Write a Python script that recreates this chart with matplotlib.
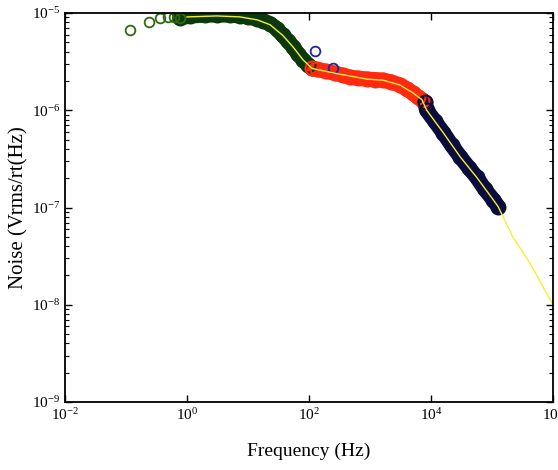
import numpy as np
import matplotlib
matplotlib.use('Agg')
import matplotlib.pyplot as plt
from matplotlib.ticker import LogLocator, NullLocator

plt.rcParams['font.family'] = 'Liberation Serif'
plt.rcParams['mathtext.fontset'] = 'stix'

# log10 of frequency (Hz) and of noise (Vrms/rtHz)
green_lf = [-0.12, 0.05, 0.30, 0.49, 0.70, 0.87, 1.00, 1.15, 1.25, 1.36, 1.47, 1.57, 1.66, 1.74, 1.82, 1.90, 1.98, 2.05]
green_lv = [-5.05, -5.03, -5.02, -5.02, -5.02, -5.03, -5.04, -5.06, -5.08, -5.11, -5.16, -5.23, -5.29, -5.35, -5.42, -5.48, -5.53, -5.57]

red_lf = [2.05, 2.13, 2.28, 2.43, 2.55, 2.67, 2.80, 2.95, 3.08, 3.21, 3.35, 3.49, 3.60, 3.70, 3.78, 3.85, 3.90]
red_lv = [-5.57, -5.58, -5.60, -5.62, -5.64, -5.66, -5.67, -5.68, -5.685, -5.69, -5.71, -5.74, -5.78, -5.82, -5.86, -5.89, -5.92]

navy_lf = [3.90, 3.93, 4.06, 4.20, 4.34, 4.48, 4.62, 4.75, 4.88, 5.02, 5.10]
navy_lv = [-5.92, -6.00, -6.11, -6.23, -6.36, -6.48, -6.59, -6.69, -6.81, -6.92, -6.99]

fit_lf = [0.0, 0.49, 0.87, 1.15, 1.36, 1.57, 1.74, 1.90, 2.05, 2.43, 2.95, 3.21, 3.49, 3.70, 3.85, 3.93, 4.20, 4.48, 4.75, 5.02, 5.10, 5.34, 5.62, 6.0]
fit_lv = [-5.04, -5.03, -5.04, -5.07, -5.12, -5.23, -5.35, -5.48, -5.57, -5.62, -5.68, -5.69, -5.74, -5.82, -5.89, -6.00, -6.23, -6.48, -6.69, -6.92, -6.99, -7.30, -7.57, -8.00]

lowf_lf = [-0.93, -0.62, -0.44, -0.31, -0.21, -0.12]
lowf_lv = [-5.17, -5.09, -5.05, -5.04, -5.04, -5.05]

outlier_lf = [2.10, 2.40]
outlier_lv = [-5.39, -5.57]

def p(a):
    return 10 ** np.array(a)

fig = plt.figure(figsize=(5.58, 4.70), dpi=100)
ax = fig.add_axes([0.1165, 0.1447, 0.8745, 0.8276])

band = dict(lw=11, solid_capstyle='round', solid_joinstyle='round')
ax.plot(p(green_lf), p(green_lv), color='#0c380c', **band)
ax.plot(p(red_lf), p(red_lv), color='#ff2a10', **band)
ax.plot(p(navy_lf), p(navy_lv), color='#0c0c3c', **band)
ax.plot(p(green_lf), p(green_lv), 'o', mfc='none', mec='#0c380c', ms=10, mew=1.5)
ax.plot(p(red_lf), p(red_lv), 'o', mfc='none', mec='#ff2a10', ms=10, mew=1.5)
ax.plot(p(navy_lf), p(navy_lv), 'o', mfc='none', mec='#0c0c3c', ms=10, mew=1.5)

ax.plot(p(lowf_lf), p(lowf_lv), 'o', mfc='none', mec='#2f6a12', ms=7, mew=1.3)
ax.plot(p(outlier_lf), p(outlier_lv), 'o', mfc='none', mec='#22229a', ms=7, mew=1.3)

ax.plot(p(fit_lf), p(fit_lv), color='#f0f03a', lw=1.0)

ax.set_xscale('log')
ax.set_yscale('log')
ax.set_xlim(1e-2, 1e6)
ax.set_ylim(1e-9, 1e-5)
ax.set_xticks([1e-2, 1e0, 1e2, 1e4, 1e6])
ax.xaxis.set_minor_locator(NullLocator())
ax.yaxis.set_major_locator(LogLocator(base=10, numticks=10))
ax.yaxis.set_minor_locator(LogLocator(base=10, subs=np.arange(2, 10), numticks=10))
ax.tick_params(which='both', direction='in', top=True, right=True, labelsize=11)
ax.tick_params(which='major', length=5, width=1)
ax.tick_params(which='minor', length=3, width=0.8)
for s in ax.spines.values():
    s.set_linewidth(1.3)

ax.set_xlabel('Frequency (Hz)', fontsize=14, labelpad=14)
ax.set_ylabel('Noise (Vrms/rt(Hz)', fontsize=15, labelpad=2)

fig.savefig('out.png', dpi=100)
